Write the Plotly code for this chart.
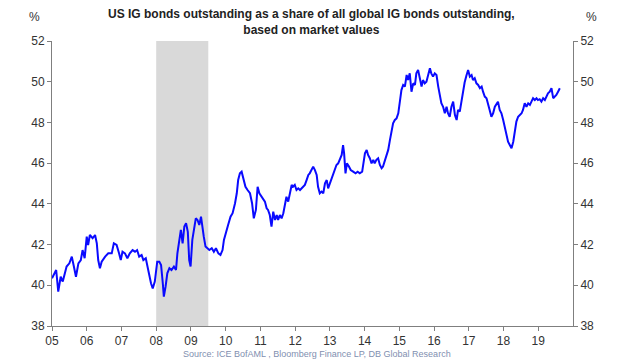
import plotly.graph_objects as go

# ---- data ----
dates = [
    2005.00, 2005.06, 2005.12, 2005.18, 2005.25, 2005.31, 2005.37, 2005.42, 2005.50, 2005.57,
    2005.63, 2005.69, 2005.76, 2005.83, 2005.88, 2005.94,
    2006.00, 2006.04, 2006.09, 2006.17, 2006.24, 2006.29, 2006.33, 2006.38, 2006.43, 2006.53,
    2006.62, 2006.72, 2006.78, 2006.86, 2006.93, 2006.98,
    2007.03, 2007.10, 2007.17, 2007.24, 2007.32, 2007.39, 2007.45, 2007.51, 2007.58, 2007.63,
    2007.70, 2007.74, 2007.79, 2007.85, 2007.90, 2007.96,
    2008.03, 2008.09, 2008.14, 2008.19, 2008.22, 2008.27, 2008.32, 2008.38, 2008.44, 2008.51,
    2008.57, 2008.61, 2008.66, 2008.71, 2008.76, 2008.81, 2008.86, 2008.91, 2008.95, 2008.99,
    2009.04, 2009.09, 2009.14, 2009.19, 2009.24, 2009.29, 2009.33, 2009.37, 2009.42, 2009.47,
    2009.53, 2009.60, 2009.66, 2009.72, 2009.79, 2009.85, 2009.91, 2009.95,
    2010.01, 2010.07, 2010.14, 2010.20, 2010.27, 2010.32, 2010.36, 2010.41, 2010.46, 2010.51,
    2010.57, 2010.63, 2010.70, 2010.76, 2010.81, 2010.87, 2010.92, 2010.97,
    2011.03, 2011.08, 2011.13, 2011.18, 2011.22, 2011.27, 2011.32, 2011.37, 2011.42, 2011.47,
    2011.51, 2011.56, 2011.61, 2011.66, 2011.71, 2011.75, 2011.80, 2011.85, 2011.90, 2011.94,
    2011.99,
    2012.04, 2012.09, 2012.14, 2012.19, 2012.23, 2012.28, 2012.33, 2012.38, 2012.42, 2012.47,
    2012.52, 2012.57, 2012.62, 2012.66, 2012.71, 2012.76, 2012.81, 2012.86, 2012.91, 2012.95,
    2013.00, 2013.05, 2013.09, 2013.14, 2013.19, 2013.24, 2013.29, 2013.34, 2013.38, 2013.41,
    2013.45, 2013.49, 2013.55, 2013.60, 2013.67, 2013.74, 2013.80, 2013.86, 2013.93, 2013.97,
    2014.01, 2014.06, 2014.10, 2014.15, 2014.20, 2014.25, 2014.29, 2014.34, 2014.39, 2014.44,
    2014.49, 2014.53, 2014.58, 2014.63, 2014.68, 2014.73, 2014.78, 2014.82, 2014.87, 2014.92,
    2014.97,
    2015.01, 2015.06, 2015.11, 2015.16, 2015.21, 2015.25, 2015.30, 2015.35, 2015.40, 2015.45,
    2015.49, 2015.54, 2015.59, 2015.64, 2015.68, 2015.73, 2015.78, 2015.83, 2015.88, 2015.92,
    2015.97,
    2016.02, 2016.07, 2016.12, 2016.17, 2016.21, 2016.26, 2016.31, 2016.36, 2016.40, 2016.45,
    2016.50, 2016.55, 2016.60, 2016.65, 2016.69, 2016.74, 2016.79, 2016.84, 2016.88, 2016.93,
    2016.98,
    2017.03, 2017.08, 2017.12, 2017.17, 2017.22, 2017.27, 2017.32, 2017.37, 2017.41, 2017.46,
    2017.51, 2017.56, 2017.60, 2017.65, 2017.70, 2017.75, 2017.80, 2017.84, 2017.89, 2017.94,
    2017.99,
    2018.04, 2018.09, 2018.13, 2018.18, 2018.23, 2018.28, 2018.32, 2018.37, 2018.42, 2018.47,
    2018.52, 2018.56, 2018.61, 2018.66, 2018.71, 2018.76, 2018.80, 2018.85, 2018.90, 2018.95,
    2018.99,
    2019.04, 2019.09, 2019.14, 2019.19, 2019.24, 2019.28, 2019.33, 2019.38, 2019.43, 2019.47,
    2019.52, 2019.57, 2019.62,
]

share = [
    40.34, 40.59, 40.75, 39.69, 40.42, 40.18, 40.59, 40.92, 41.08, 41.41,
    40.92, 40.42, 41.08, 41.24, 41.73, 41.33,
    42.39, 41.98, 42.47, 42.31, 42.47, 42.06, 41.24, 40.84, 41.16, 41.41,
    41.57, 41.57, 42.06, 41.98, 41.57, 41.24,
    41.65, 41.57, 41.33, 41.57, 41.73, 41.65, 41.73, 41.41, 41.49, 41.24,
    41.33, 40.92, 40.59, 40.10, 39.85, 40.18,
    41.16, 41.16, 41.00, 40.10, 39.44, 39.93, 40.59, 40.84, 40.75, 40.92,
    40.75, 41.57, 42.23, 42.72, 42.06, 42.88, 43.05, 42.63, 41.24, 40.92,
    42.23, 42.88, 43.29, 43.21, 42.96, 43.37, 42.72, 42.39, 41.90, 41.82,
    41.73, 41.82, 41.65, 41.82, 41.57, 41.49, 41.73, 42.23,
    42.55, 42.96, 43.37, 43.54, 44.03, 44.52, 45.17, 45.50, 45.58, 45.17,
    44.84, 44.68, 44.52, 44.03, 43.29, 43.70, 44.84, 44.52,
    44.35, 44.19, 44.11, 43.78, 43.70, 43.45, 42.88, 43.62, 43.21, 43.45,
    43.21, 43.45, 43.29, 43.54, 44.03, 44.35, 44.11, 44.60, 44.93, 44.84,
    44.93,
    44.68, 44.76, 44.68, 44.76, 44.84, 44.93, 45.17, 45.42, 45.50, 45.66,
    45.83, 45.66, 45.42, 44.84, 44.52, 44.60, 44.52, 45.01, 45.17, 44.76,
    45.01, 45.26, 45.50, 45.66, 45.91, 45.99, 46.16, 46.40, 46.89, 46.48,
    45.50, 45.99, 45.83, 45.66, 45.58, 45.50, 45.58, 45.50, 45.58, 46.16,
    46.48, 46.65, 46.40, 46.24, 45.99, 46.16, 45.99, 46.16, 46.24, 45.91,
    45.75, 45.83, 46.07, 46.32, 46.65, 47.14, 47.63, 47.96, 48.12, 48.20,
    48.45,
    48.94, 49.59, 49.84, 49.76, 50.33, 50.08, 50.41, 49.51, 49.92, 49.84,
    50.41, 50.58, 50.17, 49.76, 50.08, 49.92, 50.00, 50.33, 50.66, 50.41,
    50.25,
    50.41, 50.33, 49.76, 49.27, 48.94, 48.77, 48.45, 48.77, 48.45, 48.28,
    48.77, 49.02, 48.37, 48.12, 48.61, 48.53, 49.10, 49.50, 49.96, 50.29,
    50.58,
    50.25, 50.33, 50.08, 50.17, 49.92, 49.84, 49.68, 49.76, 49.51, 49.27,
    49.19, 48.77, 48.61, 48.28, 48.45, 48.77, 48.94, 49.02, 48.61, 48.45,
    48.12,
    47.79, 47.38, 47.05, 46.89, 46.73, 47.05, 47.55, 48.04, 48.28, 48.37,
    48.45, 48.61, 48.94, 48.77, 48.94, 48.86, 49.02, 49.19, 49.10, 49.19,
    49.10,
    49.14, 49.02, 49.19, 49.10, 49.27, 49.43, 49.51, 49.68, 49.19, 49.27,
    49.35, 49.51, 49.68,
]

recession = [2008.0, 2009.5]            # shaded period (start, end)
tick_years = list(range(2005, 2020))
tick_labels = ["05", "06", "07", "08", "09", "10", "11", "12",
               "13", "14", "15", "16", "17", "18", "19"]
y_ticks = [38, 40, 42, 44, 46, 48, 50, 52]
y_range = [38, 52]

title_text = ("US IG bonds outstanding as a share of all global IG bonds outstanding,"
              "<br>based on market values")
source_text = "Source: ICE BofAML , Bloomberg Finance LP, DB Global Research"

# ---- figure ----
axis_color = "#7f7f7f"
font_family = "Liberation Sans, Arial, sans-serif"

fig = go.Figure()
fig.add_shape(type="rect", xref="x", yref="y",
              x0=recession[0], x1=recession[1], y0=y_range[0], y1=y_range[1],
              fillcolor="#d9d9d9", line_width=0, layer="below")

fig.add_trace(go.Scatter(x=dates, y=share, mode="lines",
                         line=dict(color="#0a0aff", width=2),
                         showlegend=False, hoverinfo="skip"))
# invisible copy to drive the right-hand axis
fig.add_trace(go.Scatter(x=dates, y=share, mode="lines", yaxis="y2",
                         line=dict(color="rgba(0,0,0,0)", width=0),
                         showlegend=False, hoverinfo="skip"))

common_y = dict(range=y_range, tickvals=y_ticks, ticks="outside", ticklen=4,
                tickcolor=axis_color, showline=True, linecolor=axis_color,
                linewidth=1, showgrid=False, zeroline=False,
                tickfont=dict(size=12, color="#333333", family=font_family))

fig.update_layout(
    width=640, height=360,
    margin=dict(l=52, r=67, t=41, b=34),
    paper_bgcolor="white", plot_bgcolor="white",
    font=dict(family=font_family, size=12, color="#333333"),
    xaxis=dict(range=[2005, 2020], tickvals=tick_years, ticktext=tick_labels,
               ticks="outside", ticklen=4, tickcolor=axis_color,
               showline=True, linecolor=axis_color, linewidth=1,
               showgrid=False, zeroline=False,
               tickfont=dict(size=12, color="#333333", family=font_family)),
    yaxis=dict(**common_y, side="left"),
    yaxis2=dict(**common_y, side="right", overlaying="y"),
    annotations=[
        dict(text="<b>" + title_text.replace("<br>", "</b><br><b>") + "</b>",
             xref="paper", yref="paper", x=0.499, y=1.065,
             xanchor="center", yanchor="middle", showarrow=False,
             font=dict(size=12, color="#222222", family=font_family)),
        dict(text="%", xref="paper", yref="paper", x=-0.033, y=1.084,
             xanchor="center", yanchor="middle", showarrow=False,
             font=dict(size=12, color="#333333", family=font_family)),
        dict(text="%", xref="paper", yref="paper", x=1.035, y=1.084,
             xanchor="center", yanchor="middle", showarrow=False,
             font=dict(size=12, color="#333333", family=font_family)),
        dict(text=source_text, xref="paper", yref="paper", x=0.509, y=-0.098,
             xanchor="center", yanchor="middle", showarrow=False,
             font=dict(size=9, color="#7f8fb0", family=font_family)),
    ],
)

fig.write_html("out.html", config={"displayModeBar": False},
               post_script="document.body.style.margin='0';")
